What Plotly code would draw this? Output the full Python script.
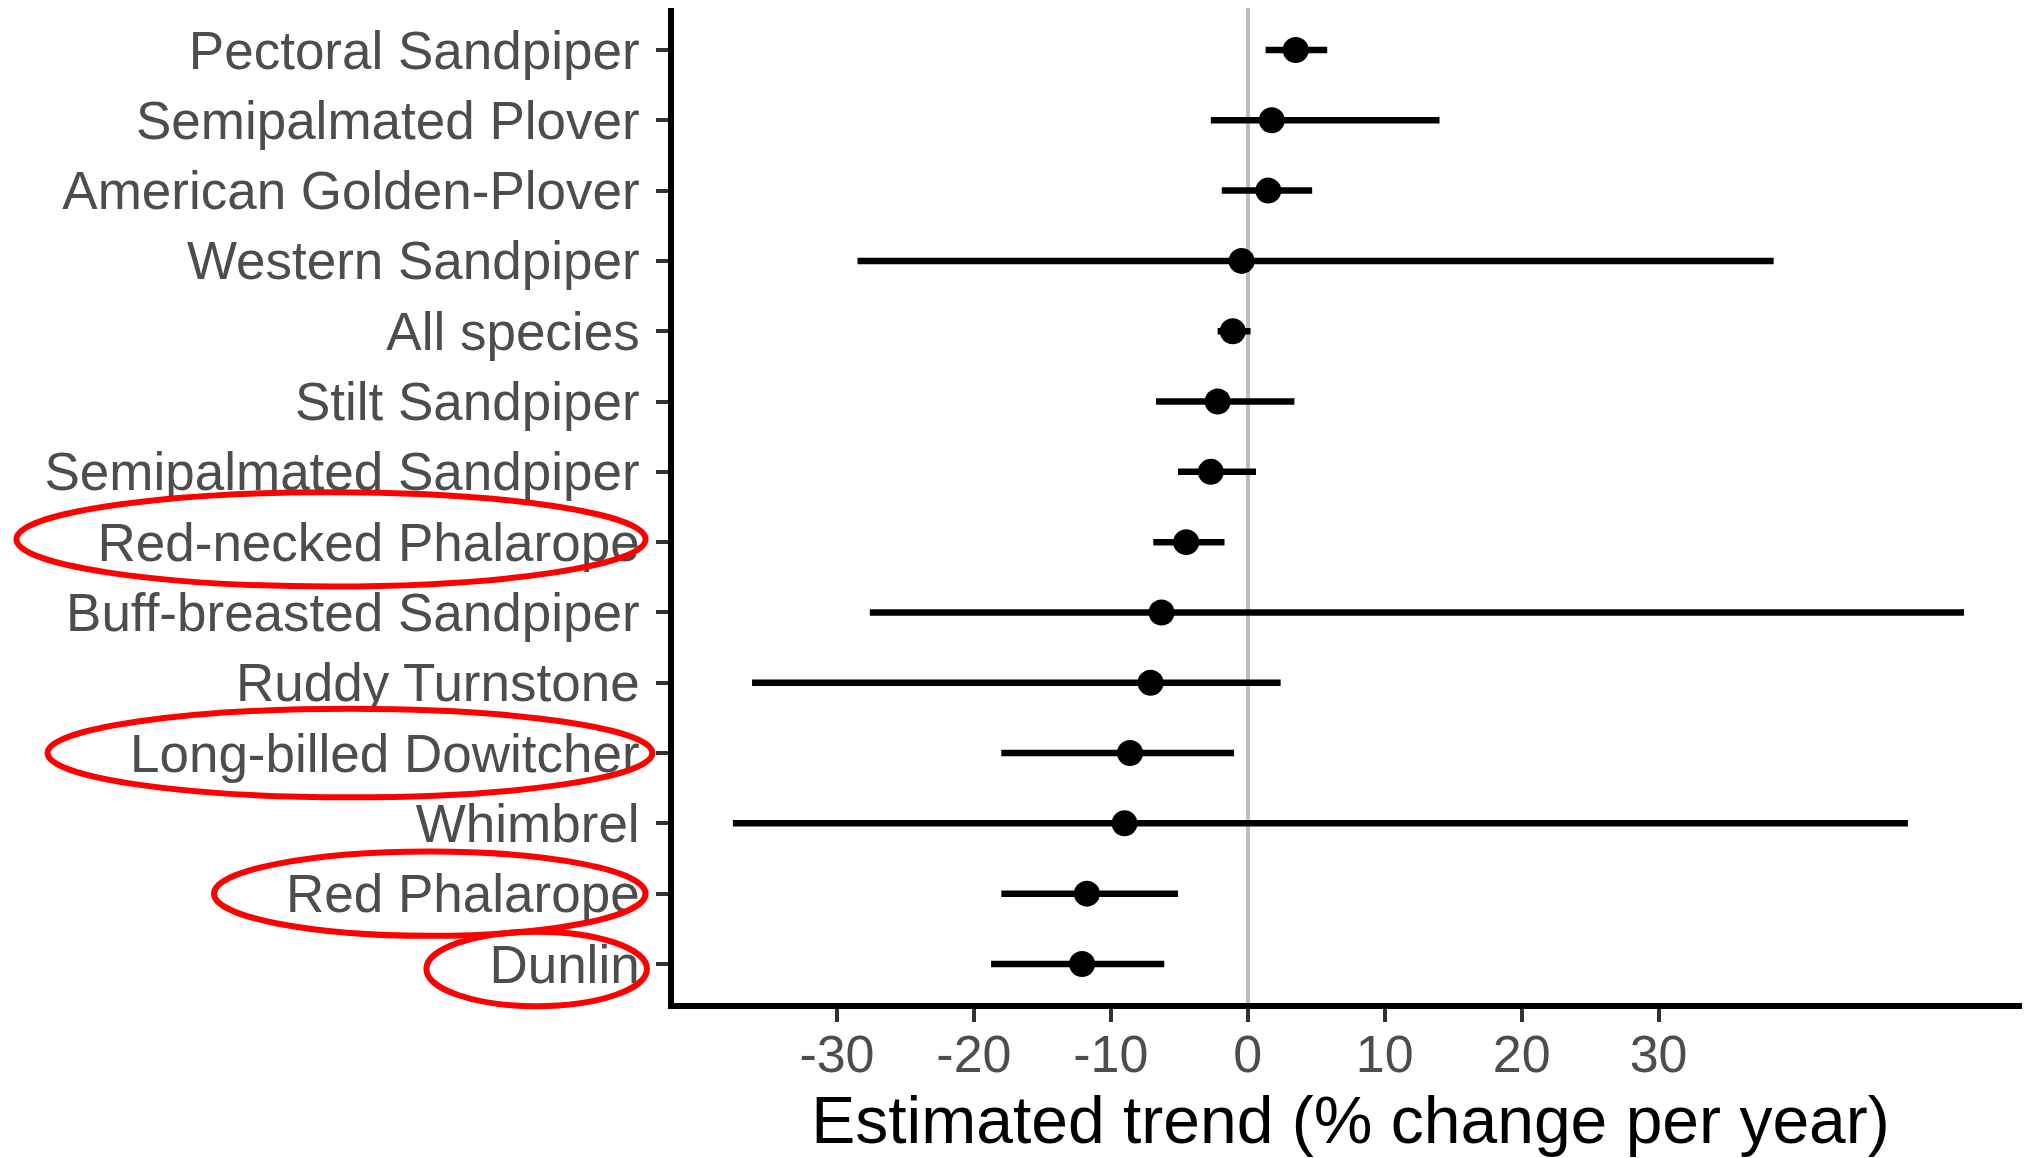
import plotly.graph_objects as go

# Data (bottom to top)
species = [
    "Dunlin", "Red Phalarope", "Whimbrel", "Long-billed Dowitcher",
    "Ruddy Turnstone", "Buff-breasted Sandpiper", "Red-necked Phalarope",
    "Semipalmated Sandpiper", "Stilt Sandpiper", "All species",
    "Western Sandpiper", "American Golden-Plover", "Semipalmated Plover",
    "Pectoral Sandpiper",
]
estimate = [-12.1, -11.75, -9.0, -8.6, -7.1, -6.3, -4.5, -2.7, -2.2, -1.1, -0.45, 1.5, 1.75, 3.5]
lower = [-18.75, -18.0, -37.6, -18.0, -36.2, -27.6, -6.9, -5.1, -6.7, -2.2, -28.5, -1.9, -2.7, 1.3]
upper = [-6.1, -5.1, 48.2, -1.0, 2.4, 52.3, -1.7, 0.6, 3.4, 0.2, 38.4, 4.7, 14.0, 5.8]
x_ticks = [-30, -20, -10, 0, 10, 20, 30]
highlighted = ["Red-necked Phalarope", "Long-billed Dowitcher", "Red Phalarope", "Dunlin"]

ypos = list(range(len(species)))
err_plus = [u - e for u, e in zip(upper, estimate)]
err_minus = [e - l for e, l in zip(estimate, lower)]

Y_RANGE = [-0.555, 13.597]

fig = go.Figure()
fig.add_trace(go.Scatter(
    x=estimate, y=ypos, mode="markers",
    marker=dict(color="black", size=26),
    error_x=dict(type="data", symmetric=False, array=err_plus, arrayminus=err_minus,
                 color="black", thickness=6.5, width=0),
    showlegend=False,
))

# Red ellipses around highlighted labels (paper x extents, y offsets in category units)
ellipse_style = {
    "Red-necked Phalarope": (-0.486, -0.021, -0.63, 0.71),
    "Long-billed Dowitcher": (-0.463, -0.016, -0.63, 0.63),
    "Red Phalarope": (-0.340, -0.021, -0.6, 0.6),
    "Dunlin": (-0.183, -0.020, -0.6, 0.46),
}


def to_paper_y(v):
    return (v - Y_RANGE[0]) / (Y_RANGE[1] - Y_RANGE[0])


for name in highlighted:
    x0, x1, dy0, dy1 = ellipse_style[name]
    yi = species.index(name)
    fig.add_shape(type="circle", xref="paper", yref="paper",
                  x0=x0, x1=x1, y0=to_paper_y(yi + dy0), y1=to_paper_y(yi + dy1),
                  line=dict(color="#ff0000", width=6), layer="above")

font_family = "Liberation Sans, Arial, Helvetica, sans-serif"
fig.update_layout(
    width=2022, height=1150,
    margin=dict(l=666, r=3, t=0, b=155, pad=0, autoexpand=False),
    paper_bgcolor="white", plot_bgcolor="white",
    font=dict(family=font_family),
    xaxis=dict(
        range=[-41.9, 56.9], tickvals=x_ticks, ticktext=[str(v) for v in x_ticks],
        showgrid=False, zeroline=True, zerolinecolor="#BEBEBE", zerolinewidth=4,
        showline=True, linecolor="black", linewidth=5.5,
        ticks="outside", ticklen=13, tickwidth=4, tickcolor="#333333",
        tickfont=dict(size=52, color="#4D4D4D"), ticklabelstandoff=-12,
        automargin=False,
        title=dict(text="Estimated trend (% change per year)",
                   font=dict(size=66, color="black"), standoff=6),
    ),
    yaxis=dict(
        range=Y_RANGE, tickvals=ypos, ticktext=species,
        showgrid=False, zeroline=False,
        showline=True, linecolor="black", linewidth=5.5,
        ticks="outside", ticklen=12, tickwidth=4, tickcolor="#333333",
        tickfont=dict(size=53, color="#4D4D4D"), ticklabelstandoff=6,
        automargin=False,
    ),
)

fig.write_html("out.html")
